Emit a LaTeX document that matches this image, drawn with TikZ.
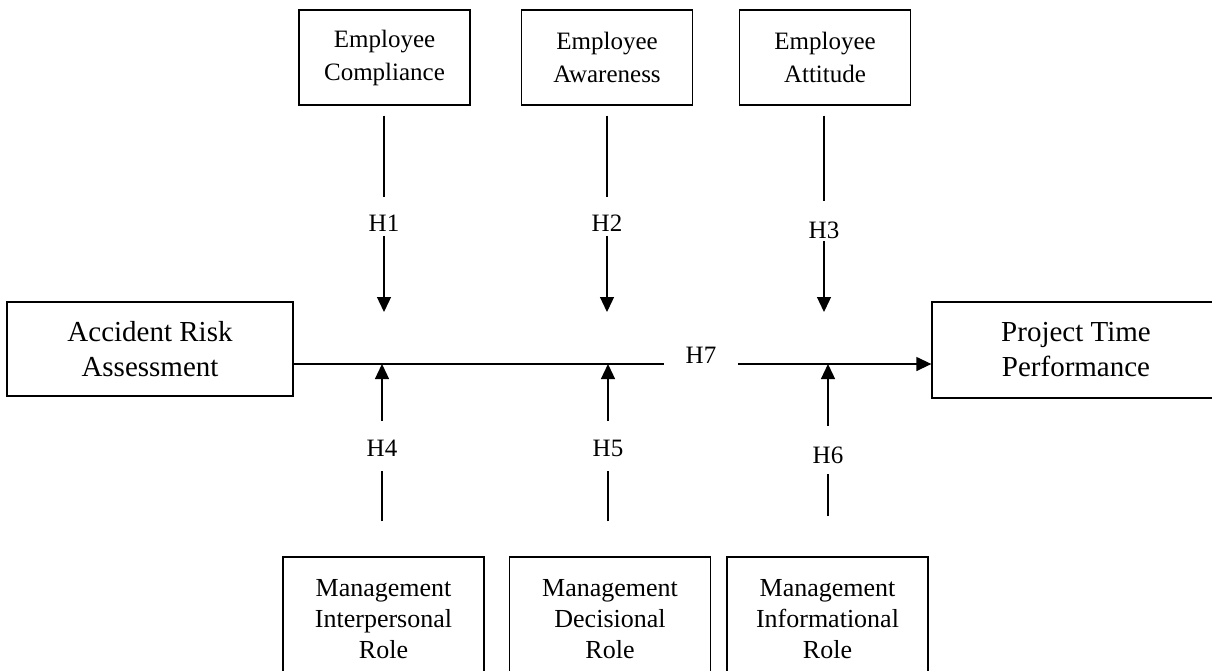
\documentclass[tikz,border=0pt]{standalone}
\usepackage{fontspec}
\setmainfont{Liberation Serif}
\usetikzlibrary{arrows.meta}
\begin{document}
\begin{tikzpicture}[x=1pt,y=-1pt, line width=1.3pt,
  box/.style={draw, rectangle, align=center, inner sep=0pt},
  topbox/.style={box, minimum width=171pt, minimum height=95pt, font=\fontsize{25}{33}\selectfont},
  sidebox/.style={box, font=\fontsize{29}{35}\selectfont},
  botbox/.style={box, minimum width=201pt, minimum height=124pt, font=\fontsize{26}{31}\selectfont},
  hlab/.style={inner sep=0pt, font=\fontsize{25}{30}\selectfont},
  arr/.style={-{Triangle[length=15pt,width=14pt]}}]
\useasboundingbox (0,0) rectangle (1212,670);
\clip (0,0) rectangle (1212,670);
% boxes
\node[topbox] (comp) at (384.5,57.5) {Employee\\Compliance};
\node[topbox] (awar) at (607,57.5) {Employee\\Awareness};
\node[topbox] (att) at (825,57.5) {Employee\\Attitude};
\node[sidebox, minimum width=286pt, minimum height=94pt] (acc) at (150,349) {Accident Risk\\Assessment};
\node[sidebox, minimum width=288pt, minimum height=96pt] (proj) at (1076,350) {Project Time\\Performance};
\node[botbox] (inter) at (383.5,619) {Management\\Interpersonal\\Role};
\node[botbox] (dec) at (610,619) {Management\\Decisional\\Role};
\node[botbox] (info) at (827.5,619) {Management\\Informational\\Role};
% labels
\node[hlab] (h1) at (384,223) {H1};
\node[hlab] (h2) at (607,223) {H2};
\node[hlab] (h3) at (824,230) {H3};
\node[hlab] (h4) at (382,448) {H4};
\node[hlab] (h5) at (608,448) {H5};
\node[hlab] (h6) at (828,455) {H6};
\node[hlab, inner xsep=21pt] (h7) at (701,355) {H7};
% main line
\coordinate (ml) at ([yshift=-15pt]acc.east);
\coordinate (dt) at (0,312);
\draw (ml) -- (h7.west |- ml);
\draw[arr] (h7.east |- ml) -- (proj.west |- ml);
% top arrows
\draw[shorten <=10pt, shorten >=17pt] (comp.south -| h1) -- (h1.north);
\draw[arr, shorten <=4pt] (h1.south) -- (h1 |- dt);
\draw[shorten <=10pt, shorten >=17pt] (awar.south -| h2) -- (h2.north);
\draw[arr, shorten <=4pt] (h2.south) -- (h2 |- dt);
\draw[shorten <=10pt, shorten >=20pt] (att.south -| h3) -- (h3.north);
\draw[arr, shorten <=2pt] (h3.south) -- (h3 |- dt);
% bottom arrows
\draw[shorten <=35pt, shorten >=14pt] (inter.north -| h4) -- (h4.south);
\draw[arr, shorten <=18pt] (h4.north) -- (h4 |- ml);
\draw[shorten <=35pt, shorten >=14pt] (dec.north -| h5) -- (h5.south);
\draw[arr, shorten <=18pt] (h5.north) -- (h5 |- ml);
\draw[shorten <=40pt, shorten >=10pt] (info.north -| h6) -- (h6.south);
\draw[arr, shorten <=20pt] (h6.north) -- (h6 |- ml);
\end{tikzpicture}
\end{document}
